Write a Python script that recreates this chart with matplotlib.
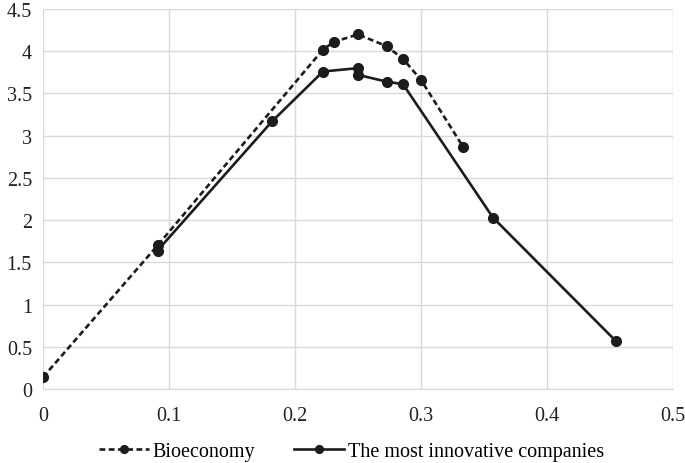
import matplotlib.pyplot as plt

# data
bio_x = [0.0, 0.0909, 0.2222, 0.2308, 0.25, 0.2727, 0.2857, 0.30, 0.3333]
bio_y = [0.14, 1.70, 4.02, 4.11, 4.20, 4.06, 3.91, 3.66, 2.87]

inno_x = [0.0909, 0.1818, 0.2222, 0.25, 0.25, 0.2727, 0.2857, 0.3571, 0.4545]
inno_y = [1.64, 3.17, 3.76, 3.80, 3.72, 3.64, 3.61, 2.03, 0.57]

x_ticks = [0, 0.1, 0.2, 0.3, 0.4, 0.5]
x_labels = ["0", "0.1", "0.2", "0.3", "0.4", "0.5"]
y_ticks = [0, 0.5, 1, 1.5, 2, 2.5, 3, 3.5, 4, 4.5]
y_labels = ["0", "0.5", "1", "1.5", "2", "2.5", "3", "3.5", "4", "4.5"]

plt.rcParams["font.family"] = ["Liberation Serif", "DejaVu Serif"]

fig = plt.figure(figsize=(6.85, 4.64), dpi=100)
ax = fig.add_axes([0.0628, 0.1595, 0.9197, 0.8189])

line_color = "#1c1c1c"
ax.plot(bio_x, bio_y, color=line_color, lw=1.9, dashes=(2.2, 1.3),
        marker="o", markersize=7, label="Bioeconomy", zorder=3)
ax.plot(inno_x, inno_y, color=line_color, lw=1.9, linestyle="-",
        marker="o", markersize=7, label="The most innovative companies", zorder=3)

ax.set_xlim(0, 0.5)
ax.set_ylim(0, 4.5)
ax.set_xticks(x_ticks)
ax.set_xticklabels(x_labels)
ax.set_yticks(y_ticks)
ax.set_yticklabels(y_labels)
ax.tick_params(axis="both", length=0, labelsize=14.5, colors="#222222")
ax.tick_params(axis="x", pad=12)
ax.tick_params(axis="y", pad=8)

ax.grid(True, color="#d9d9d9", lw=1.0)
ax.set_axisbelow(True)
for side in ["top", "right", "left"]:
    ax.spines[side].set_visible(False)
ax.spines["bottom"].set_color("#d9d9d9")

fig.legend(loc="lower center", bbox_to_anchor=(0.513, -0.035), ncol=2,
           frameon=False, fontsize=14.5, handlelength=2.5, columnspacing=1.9,
           handletextpad=0.2, markerscale=0.8)

plt.savefig("out.png", dpi=100)
